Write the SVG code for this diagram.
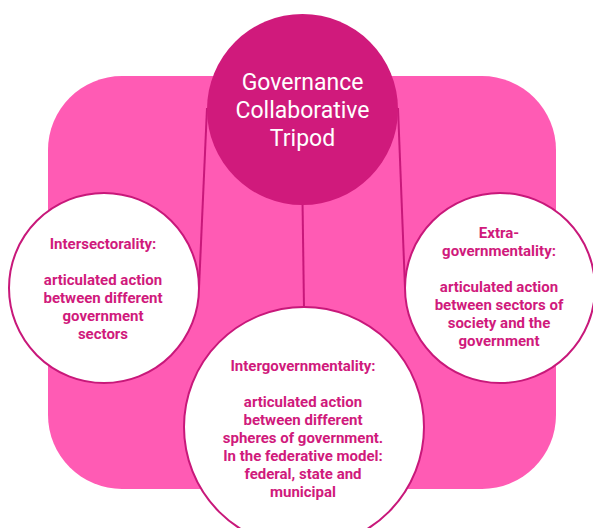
<svg xmlns="http://www.w3.org/2000/svg" width="593" height="528" viewBox="0 0 593 528">
<style>
.bg{fill:#FF5BB4}
.hub{fill:#D01A7C}
.node{fill:#FFFFFF;stroke:#C8187A;stroke-width:2}
.conn{stroke:#C8187A;stroke-width:2;fill:none}
.title{font-family:Roboto,"Liberation Sans",sans-serif;font-size:23px;fill:#FFFFFF;text-anchor:middle}
.lbl{font-family:Roboto,"Liberation Sans",sans-serif;font-size:15px;font-weight:bold;fill:#D01A7C;text-anchor:middle}
</style>
<rect class="bg" x="48" y="76" width="508" height="413" rx="74" ry="74"/>
<g id="connectors">
<line class="conn" x1="207" y1="108" x2="199" y2="288"/>
<line class="conn" x1="398" y1="108" x2="405" y2="288"/>
<line class="conn" x1="302.5" y1="200" x2="304" y2="308"/>
</g>
<g id="hub">
<circle class="hub" cx="302.5" cy="109.5" r="95.5"/>
<text class="title"><tspan x="302.5" y="90">Governance</tspan><tspan x="302.5" y="118">Collaborative</tspan><tspan x="302.5" y="146">Tripod</tspan></text>
</g>
<g id="intersectorality">
<circle class="node" cx="104" cy="288" r="95"/>
<text class="lbl"><tspan x="103" y="249">Intersectorality:</tspan><tspan x="103" y="285">articulated action</tspan><tspan x="103" y="303">between different</tspan><tspan x="103" y="321">government</tspan><tspan x="103" y="339">sectors</tspan></text>
</g>
<g id="extragovernmentality">
<circle class="node" cx="500" cy="288" r="95"/>
<text class="lbl"><tspan x="499" y="238">Extra-</tspan><tspan x="499" y="256">governmentality:</tspan><tspan x="499" y="292">articulated action</tspan><tspan x="499" y="310">between sectors of</tspan><tspan x="499" y="328">society and the</tspan><tspan x="499" y="346">government</tspan></text>
</g>
<g id="intergovernmentality">
<circle class="node" cx="304" cy="427" r="120"/>
<text class="lbl"><tspan x="303" y="371">Intergovernmentality:</tspan><tspan x="303" y="407">articulated action</tspan><tspan x="303" y="425">between different</tspan><tspan x="303" y="443">spheres of government.</tspan><tspan x="303" y="461">In the federative model:</tspan><tspan x="303" y="479">federal, state and</tspan><tspan x="303" y="497">municipal</tspan></text>
</g>
</svg>
